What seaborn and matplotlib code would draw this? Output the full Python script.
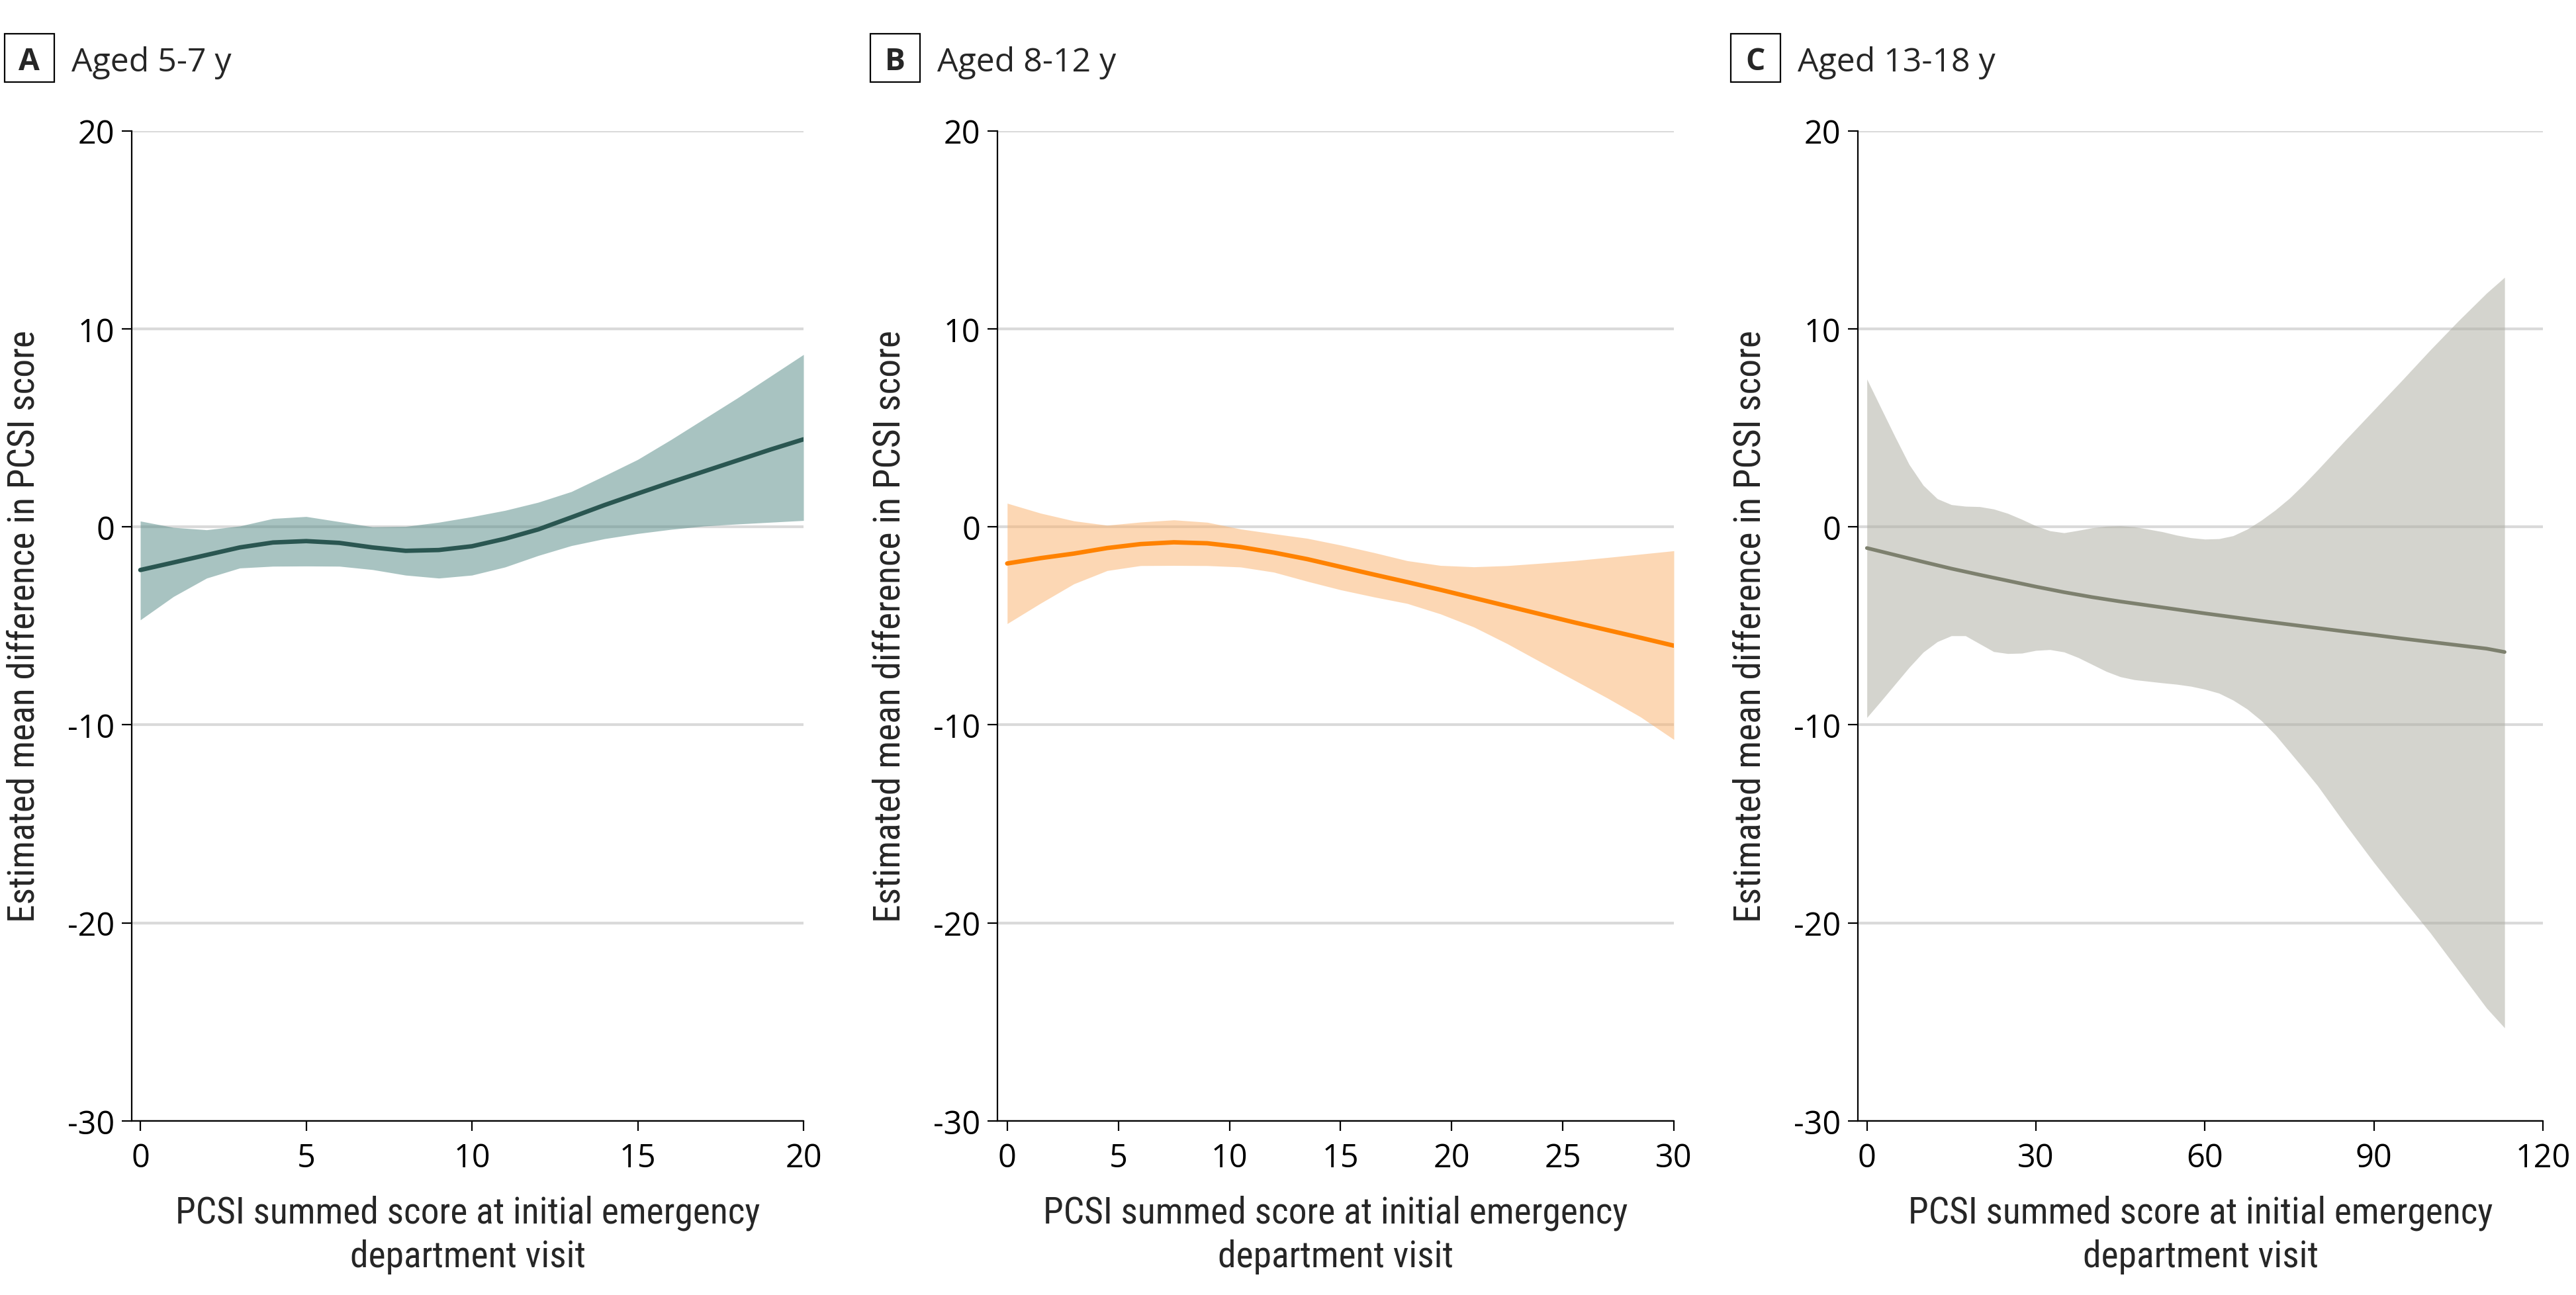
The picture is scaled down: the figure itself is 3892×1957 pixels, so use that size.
import matplotlib
matplotlib.use("Agg")
import matplotlib.pyplot as plt
import seaborn as sns
import pandas as pd
from matplotlib.patches import Rectangle

# ---------------- DATA ---------------- #
# Panel A, aged 5-7 y
x_a = [0, 1, 2, 3, 4, 5, 6, 7, 8, 9, 10, 11, 12, 13, 14, 15, 16, 17, 18, 19, 20]
mean_a = [-2.18, -1.8, -1.42, -1.04, -0.79, -0.72, -0.81, -1.04, -1.21, -1.17, -0.98,
          -0.60, -0.13, 0.48, 1.1, 1.68, 2.25, 2.8, 3.35, 3.9, 4.42]
upper_a = [0.29, -0.03, -0.15, 0.04, 0.42, 0.52, 0.26, 0.0, 0.02, 0.23, 0.51,
           0.83, 1.24, 1.78, 2.58, 3.4, 4.4, 5.45, 6.5, 7.6, 8.7]
lower_a = [-4.7, -3.52, -2.59, -2.08, -1.99, -1.98, -1.99, -2.16, -2.44, -2.59, -2.44,
           -2.03, -1.45, -0.95, -0.6, -0.34, -0.13, 0.04, 0.14, 0.23, 0.32]

# Panel B, aged 8-12 y
x_b = [0, 1.5, 3, 4.5, 6, 7.5, 9, 10.5, 12, 13.5, 15, 16.5, 18, 19.5, 21, 22.5, 24, 25.5, 27, 28.5, 30]
mean_b = [-1.85, -1.58, -1.35, -1.07, -0.87, -0.78, -0.83, -1.02, -1.3, -1.63, -2.02,
          -2.41, -2.79, -3.18, -3.59, -4.0, -4.41, -4.82, -5.21, -5.6, -6.0]
upper_b = [1.19, 0.69, 0.3, 0.08, 0.24, 0.35, 0.23, -0.11, -0.35, -0.58, -0.92,
           -1.3, -1.71, -1.95, -2.02, -1.96, -1.84, -1.71, -1.55, -1.38, -1.21]
lower_b = [-4.89, -3.86, -2.88, -2.21, -1.96, -1.95, -1.96, -2.03, -2.29, -2.75, -3.18,
           -3.54, -3.87, -4.4, -5.06, -5.9, -6.82, -7.73, -8.64, -9.6, -10.74]

# Panel C, aged 13-18 y (line)
x_c = [0, 5, 10, 15, 20, 25, 30, 35, 40, 45, 50, 55, 60, 65, 70, 75, 80, 85, 90, 95, 100, 105, 110, 113.2]
mean_c = [-1.07, -1.42, -1.77, -2.11, -2.42, -2.72, -3.02, -3.3, -3.55, -3.77, -3.97, -4.17,
          -4.37, -4.56, -4.75, -4.93, -5.11, -5.29, -5.46, -5.64, -5.81, -5.98, -6.15, -6.32]
# Panel C band, read on a finer grid
x_c_band = [0, 2.5, 5, 7.5, 10, 12.5, 15, 17.5, 20, 22.5, 25, 27.5, 30, 32.5, 35, 37.5, 40,
            42.5, 45, 47.5, 50, 52.5, 55, 57.5, 60, 62.5, 65, 67.5, 70, 72.5, 75, 77.5, 80,
            85, 90, 95, 100, 105, 110, 113.2]
upper_c = [7.46, 6.0, 4.55, 3.15, 2.1, 1.42, 1.12, 1.04, 1.02, 0.9, 0.68, 0.38, 0.05, -0.2,
           -0.3, -0.18, -0.05, 0.03, 0.05, 0.0, -0.12, -0.25, -0.42, -0.55, -0.62, -0.6,
           -0.45, -0.12, 0.33, 0.85, 1.44, 2.13, 2.87, 4.4, 5.9, 7.4, 8.93, 10.4, 11.8, 12.6]
lower_c = [-9.63, -8.8, -7.95, -7.1, -6.33, -5.8, -5.5, -5.5, -5.9, -6.3, -6.4, -6.38, -6.24,
           -6.2, -6.32, -6.6, -6.95, -7.3, -7.57, -7.72, -7.8, -7.88, -7.95, -8.05, -8.2,
           -8.4, -8.75, -9.2, -9.78, -10.5, -11.35, -12.2, -13.07, -15.05, -16.95, -18.75,
           -20.5, -22.4, -24.3, -25.3]

letters = ["A", "B", "C"]
titles = ["Aged 5-7 y", "Aged 8-12 y", "Aged 13-18 y"]
x_ticks = [[0, 5, 10, 15, 20], [0, 5, 10, 15, 20, 25, 30], [0, 30, 60, 90, 120]]
x_lims = [(-0.26, 20), (-0.44, 30), (-1.6, 120)]
y_ticks = [20, 10, 0, -10, -20, -30]
xlabel = "PCSI summed score at initial emergency\ndepartment visit"
ylabel = "Estimated mean difference in PCSI score"

line_colors = ["#2a5651", "#ff8200", "#7d806e"]
band_colors = ["#538985", "#fbb16b", "#abab9f"]

# ---------------- STYLE ---------------- #
sns.set_theme(style="ticks")
plt.rcParams["font.family"] = ["Open Sans", "DejaVu Sans"]
plt.rcParams["axes.unicode_minus"] = False

W, H = 3892, 1958
fig = plt.figure(figsize=(W / 200, H / 200), dpi=200)

# axes boxes in pixels: left, right
ax_px = [(199, 1214), (1507, 2529), (2807, 3842)]
top_px, bottom_px = 198.6, 1695
cond = ["Liberation Sans Narrow", "Roboto Condensed", "DejaVu Sans"]

panels = [
    (x_a, mean_a, x_a, lower_a, upper_a),
    (x_b, mean_b, x_b, lower_b, upper_b),
    (x_c, mean_c, x_c_band, lower_c, upper_c),
]

for i, (xs, m, xb, lo, up) in enumerate(panels):
    l, r = ax_px[i]
    ax = fig.add_axes([l / W, 1 - bottom_px / H, (r - l) / W, (bottom_px - top_px) / H])
    df = pd.DataFrame({"x": xs, "y": m})

    ax.fill_between(xb, lo, up, color=band_colors[i], alpha=0.5, lw=0, zorder=2)
    sns.lineplot(data=df, x="x", y="y", ax=ax, color=line_colors[i],
                 lw=2.4 if i < 2 else 2.0, zorder=3)

    ax.set_xlim(*x_lims[i])
    ax.set_ylim(-30, 20)
    ax.set_xticks(x_ticks[i])
    ax.set_yticks(y_ticks)
    ax.yaxis.grid(True, color="#dadada", lw=1.5, zorder=1)
    ax.set_axisbelow(True)
    sns.despine(ax=ax)
    for s in ["left", "bottom"]:
        ax.spines[s].set_linewidth(0.8)
        ax.spines[s].set_color("black")
    ax.tick_params(direction="out", length=5.4, width=0.8, color="black",
                   labelsize=17.5, labelcolor="black")
    ax.tick_params(axis="x", pad=6)
    ax.tick_params(axis="y", pad=4)

    ax.set_xlabel(xlabel, fontsize=20, family=cond, labelpad=11, linespacing=1.3)
    ax.set_ylabel(ylabel, fontsize=20, family=cond, labelpad=14)

    # panel letter box and title
    box_cx = l - 155
    bw, bh = 75, 73
    fig.patches.append(Rectangle(((box_cx - bw / 2) / W, 1 - (88.5 + bh / 2) / H), bw / W, bh / H,
                                 transform=fig.transFigure, fill=False, ec="black", lw=0.8))
    fig.text(box_cx / W, 1 - 88.5 / H, letters[i], ha="center", va="center_baseline",
             fontsize=16.6, fontweight="bold")
    fig.text((l - 91) / W, 1 - 88.5 / H, titles[i], ha="left", va="center_baseline",
             fontsize=18)

fig.savefig("out.png", dpi=200)
